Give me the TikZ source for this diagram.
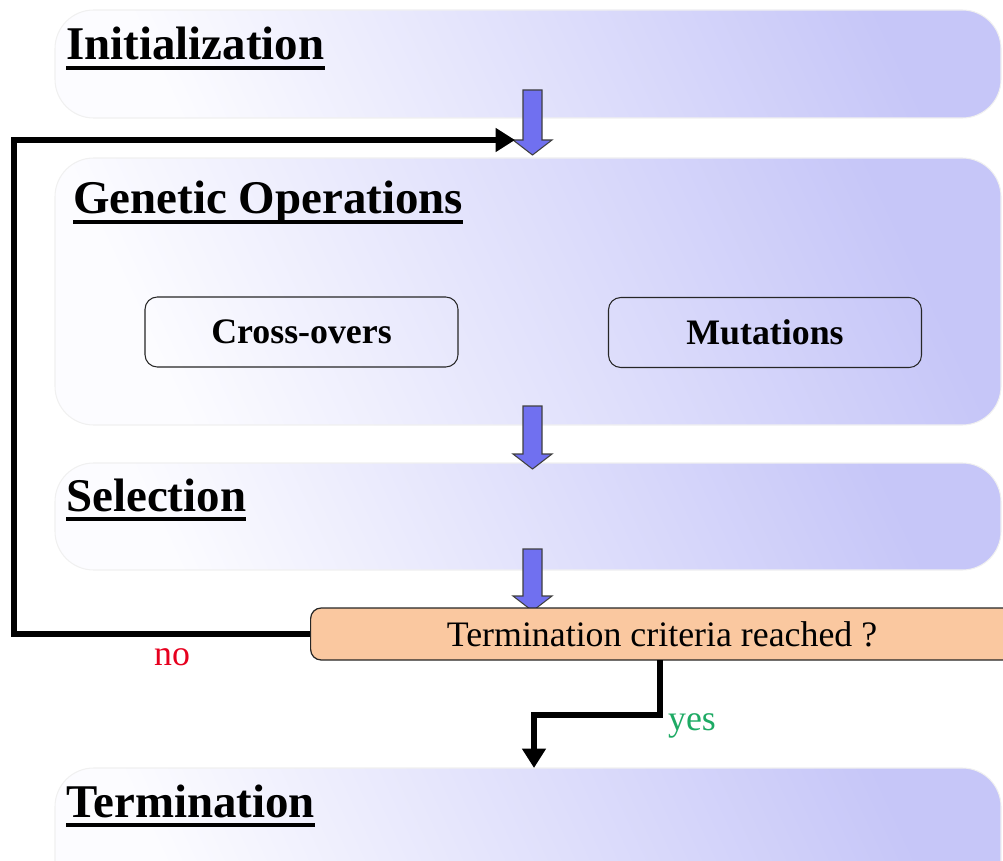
\documentclass[tikz,border=0pt]{standalone}
\usepackage{fontspec}
\setmainfont{Liberation Serif}
\usetikzlibrary{arrows.meta}
\definecolor{panelhi}{RGB}{198,198,248}
\definecolor{panello}{RGB}{252,252,255}
\definecolor{flowblue}{RGB}{112,112,240}
\definecolor{peach}{RGB}{250,200,160}
\definecolor{noRed}{RGB}{230,0,30}
\definecolor{yesGreen}{RGB}{30,170,100}
\tikzset{
  panel/.style={rounded corners=22, left color=panello, right color=panelhi,
    shading angle=115, draw=black!6, line width=0.6pt},
  paneltitle/.style={font=\fontsize{26.7}{30}\selectfont\bfseries, inner sep=0pt, anchor=base west},
  ulbar/.style={line width=2.2pt},
  opbox/.style={draw=black!85, line width=0.6pt, rounded corners=7,
    font=\fontsize{20.4}{24}\selectfont\bfseries, minimum width=313*0.02cm, minimum height=70*0.02cm},
  testbox/.style={draw=black!85, fill=peach, line width=0.7pt, rounded corners=6,
    font=\fontsize{20.4}{24}\selectfont, minimum height=52*0.02cm, inner sep=0pt},
  blockarrow/.style={fill=flowblue, draw=black!75, line width=0.6pt},
  flow/.style={line width=3.4pt, -{Triangle[length=11pt,width=13pt]}},
  lbl/.style={font=\fontsize{20.4}{24}\selectfont, inner sep=0pt}
}
% vertical block arrow: centre x, top y, tip y
\newcommand{\blockdown}[3]{%
  \path[blockarrow] (#1-9.5,#2) -- (#1+9.5,#2) -- (#1+9.5,#3-15) -- (#1+19.5,#3-15)
    -- (#1,#3) -- (#1-19.5,#3-15) -- (#1-9.5,#3-15) -- cycle;}
\begin{document}
\begin{tikzpicture}[x=0.02cm, y=-0.02cm]
\useasboundingbox (0,0) rectangle (1003,861);
\clip (0,0) rectangle (1003,861);

% stage panels
\path[panel] (55,10) rectangle (1001,118);
\path[panel] (55,158) rectangle (1001,425);
\path[panel] (55,463) rectangle (1001,570);
\path[panel] (55,768) rectangle (1001,900);

% stage titles with underlines
\node[paneltitle] (tinit) at (66,60) {Initialization};
\draw[ulbar] ([yshift=-4.5pt]tinit.base west) -- ([yshift=-4.5pt]tinit.base east);
\node[paneltitle] (tgen) at (73,214) {Genetic Operations};
\draw[ulbar] ([yshift=-4.5pt]tgen.base west) -- ([yshift=-4.5pt]tgen.base east);
\node[paneltitle] (tsel) at (66,511) {Selection};
\draw[ulbar] ([yshift=-4.5pt]tsel.base west) -- ([yshift=-4.5pt]tsel.base east);
\node[paneltitle] (tterm) at (66,817) {Termination};
\draw[ulbar] ([yshift=-4.5pt]tterm.base west) -- ([yshift=-4.5pt]tterm.base east);

% genetic operators
\node[opbox] (cross) at (301.5,332) {Cross-overs};
\node[opbox] (mut) at (765,332.5) {Mutations};

% block arrows between stages
\blockdown{532.5}{90}{155}
\blockdown{532.5}{406}{469}
\blockdown{532.5}{549}{611}

% termination test
\node[testbox, anchor=west, minimum width=720*0.02cm] (test) at (310,634) {};
\node[lbl] (testtxt) at (662,634) {Termination criteria reached ?};

% loop back when not terminated
\coordinate (loopin) at (515,140);
\draw[flow] (test.west) -| (14,140) -- (loopin);
\node[lbl, text=noRed] (no) at (172,657) {no};

% exit when terminated
\coordinate (termin) at (534,768);
\draw[flow] (660,660) |- (534,715) -- (termin);
\node[lbl, text=yesGreen] (yes) at (692,726) {yes};
\end{tikzpicture}
\end{document}
